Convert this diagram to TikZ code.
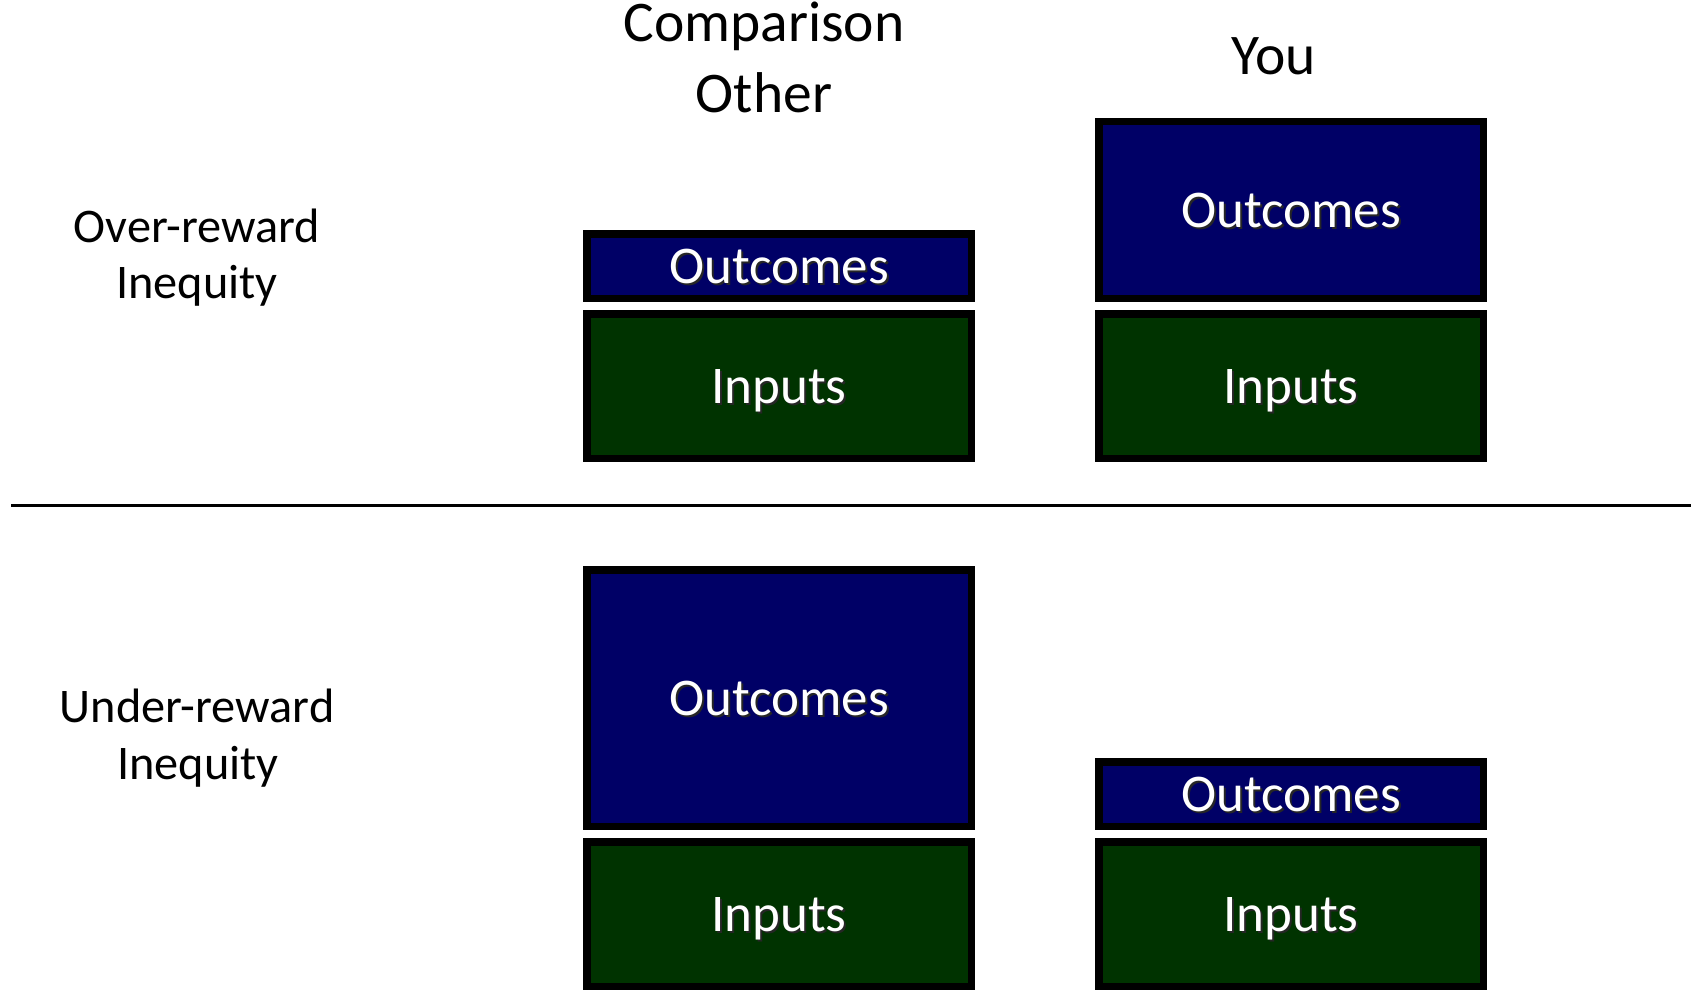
\documentclass[tikz,border=0pt]{standalone}
\usepackage{fontspec}
\setmainfont{Carlito}
\definecolor{navybox}{RGB}{0,0,102}
\definecolor{greenbox}{RGB}{0,51,0}
\newcommand{\shtext}[1]{\makebox[0pt][l]{\raisebox{-2pt}{\hspace{2pt}\textcolor{black!85}{#1}}}\textcolor{white}{#1}}
\tikzset{
  box/.style={draw=black, line width=7.5pt, minimum width=384.5pt, inner sep=0pt, text depth=0pt,
              font=\fontsize{53}{64}\selectfont},
  outbox/.style={box, fill=navybox},
  inbox/.style={box, fill=greenbox},
  head/.style={anchor=base, inner sep=0pt, font=\fontsize{57.5}{69}\selectfont},
  lab/.style={anchor=base, inner sep=0pt, font=\fontsize{48.3}{58}\selectfont},
  sep/.style={draw=black, line width=2.5pt}
}
\begin{document}
\begin{tikzpicture}[x=1pt, y=-1pt]
\useasboundingbox (0,0) rectangle (1691,995);
% headers
\node[head] (cmp) at (764,42) {Comparison};
\node[head] (oth) at (764,113) {Other};
\node[head] (you) at (1274,75) {You};
% row labels
\node[lab] (over) at (197,242) {Over-reward};
\node[lab] (ineq1) at (197,298) {Inequity};
\node[lab] (under) at (197,722) {Under-reward};
\node[lab] (ineq2) at (198,779) {Inequity};
% over-reward boxes
\node[outbox, minimum height=64.5pt] (o1) at (779,266) {\shtext{Outcomes}};
\node[inbox, minimum height=144.5pt] (i1) at (779,386) {\shtext{Inputs}};
\node[outbox, minimum height=176.5pt] (o2) at (1291,210) {\shtext{Outcomes}};
\node[inbox, minimum height=144.5pt] (i2) at (1291,386) {\shtext{Inputs}};
% under-reward boxes
\node[outbox, minimum height=256.5pt] (o3) at (779,698) {\shtext{Outcomes}};
\node[inbox, minimum height=144.5pt] (i3) at (779,914) {\shtext{Inputs}};
\node[outbox, minimum height=64.5pt] (o4) at (1291,794) {\shtext{Outcomes}};
\node[inbox, minimum height=144.5pt] (i4) at (1291,914) {\shtext{Inputs}};
% separator
\coordinate (sl) at (11,505.7);
\coordinate (sr) at (1691,505.7);
\draw[sep] (sl) -- (sr);
\end{tikzpicture}
\end{document}
